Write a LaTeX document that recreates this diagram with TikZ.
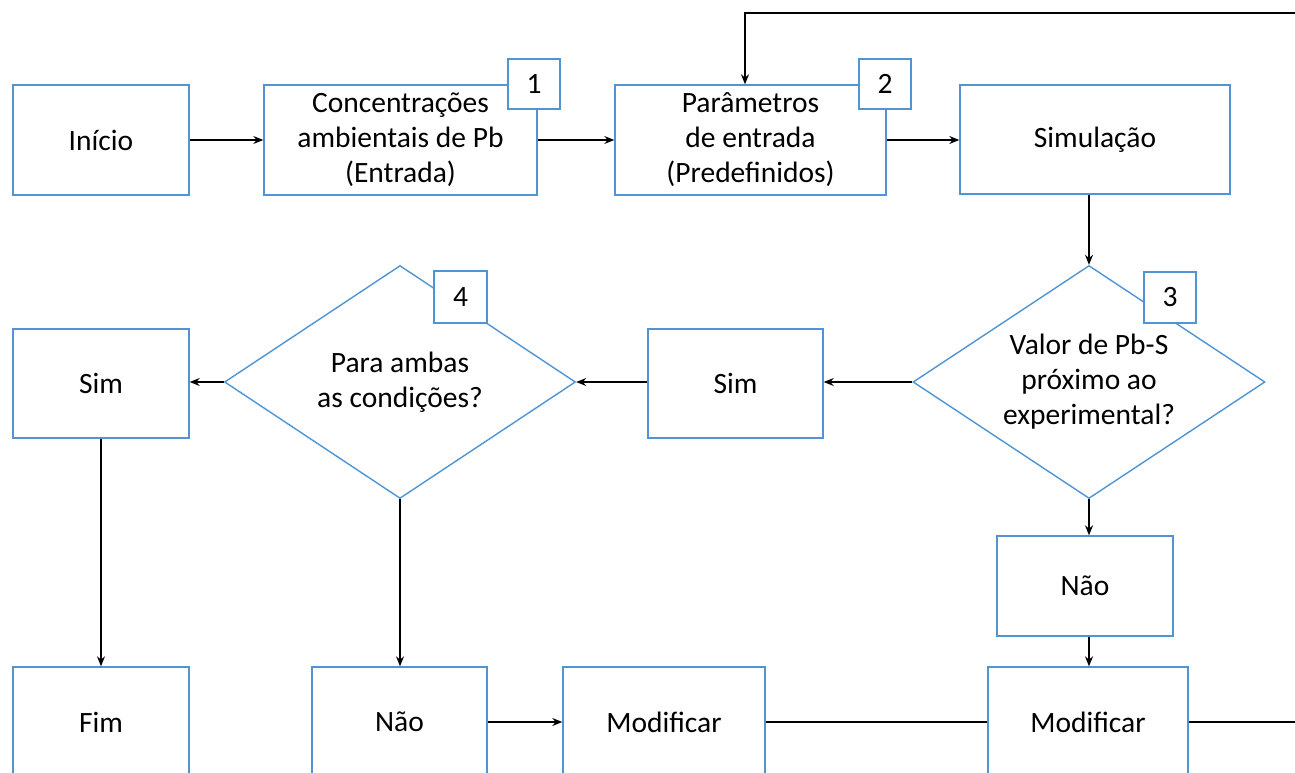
\documentclass[tikz,border=0pt]{standalone}
\usepackage{fontspec}
\setmainfont{Carlito}
\usetikzlibrary{arrows.meta,shapes.geometric}
\definecolor{bl}{RGB}{80,148,212}
\begin{document}
\begin{tikzpicture}[x=1pt,y=-1pt,
  txt/.style={font=\fontsize{29.5}{35}\selectfont, align=center},
  box/.style={txt, draw=bl, line width=1.4pt, fill=white, inner sep=0pt},
  decision/.style={txt, draw=bl, line width=1.4pt, shape=diamond, aspect=1.51, inner sep=0pt, minimum width=352pt, minimum height=233pt},
  lab/.style={box, minimum width=52pt, minimum height=50pt},
  arr/.style={draw=black, line width=1.2pt, -{Stealth[length=10pt,width=8pt]}},
  ln/.style={draw=black, line width=1.2pt}]
\clip (0,0) rectangle (1295,773);
\fill[white] (0,0) rectangle (1295,773);
% top row
\node[box, minimum width=176pt, minimum height=110pt] (inicio) at (101,140) {Início};
\node[box, minimum width=273pt, minimum height=110pt] (conc) at (400.5,140) {Concentrações\\ambientais de Pb\\(Entrada)};
\node[box, minimum width=271pt, minimum height=110pt] (param) at (750.5,140) {Parâmetros\\de entrada\\(Predefinidos)};
\node[box, minimum width=270pt, minimum height=109pt] (simul) at (1095,139.5) {Simulação};
% middle row
\node[decision] (d3) at (1089,382) {Valor de Pb-S\\próximo ao\\experimental?};
\node[box, minimum width=175pt, minimum height=109pt] (simR) at (735.5,383.5) {Sim};
\node[decision, minimum width=351pt] (d4) at (400,382) {Para ambas\\as condições?};
\node[box, minimum width=176pt, minimum height=109pt] (simL) at (101,383.5) {Sim};
\node[box, minimum width=176pt, minimum height=100pt] (naoR) at (1085,586) {Não};
% bottom row
\node[box, minimum width=176pt, minimum height=110pt] (fim) at (101,722) {Fim};
\node[box, minimum width=175pt, minimum height=110pt] (naoL) at (399.5,722) {Não};
\node[box, minimum width=202pt, minimum height=110pt] (mod1) at (664,722) {Modificar};
\node[box, minimum width=200pt, minimum height=110pt] (mod2) at (1088,722) {Modificar};
% number labels
\node[lab] (l1) at (534,84) {1};
\node[lab] (l2) at (885,84) {2};
\node[lab, minimum height=51pt] (l3) at (1170,297.5) {3};
\node[lab, minimum width=53pt, minimum height=52pt] (l4) at (460.5,297) {4};
% connectors
\draw[arr] (inicio.east) -- (conc.west);
\draw[arr] (conc.east) -- (param.west);
\draw[arr] (param.east) -- (simul.west |- param.east);
\draw[arr] (d3.north |- simul.south) -- (d3.north);
\draw[arr] (d3.west) -- (simR.east |- d3.west);
\draw[arr] (simR.west |- d4.east) -- (d4.east);
\draw[arr] (d4.west) -- (simL.east |- d4.west);
\draw[arr] (simL.south) -- (fim.north);
\draw[arr] (d4.south) -- (d4.south |- naoL.north);
\draw[arr] (naoL.east) -- (mod1.west);
\draw[ln] (mod1.east) -- (mod2.west);
\draw[arr] (d3.south) -- (d3.south |- naoR.north);
\draw[arr] (d3.south |- naoR.south) -- (d3.south |- mod2.north);
\coordinate (fb1) at (1310,722);
\coordinate (fb2) at (1310,13);
\coordinate (fb3) at (745,13);
\draw[arr] (mod2.east) -- (fb1) -- (fb2) -- (fb3) -- (fb3 |- param.north);
\end{tikzpicture}
\end{document}
